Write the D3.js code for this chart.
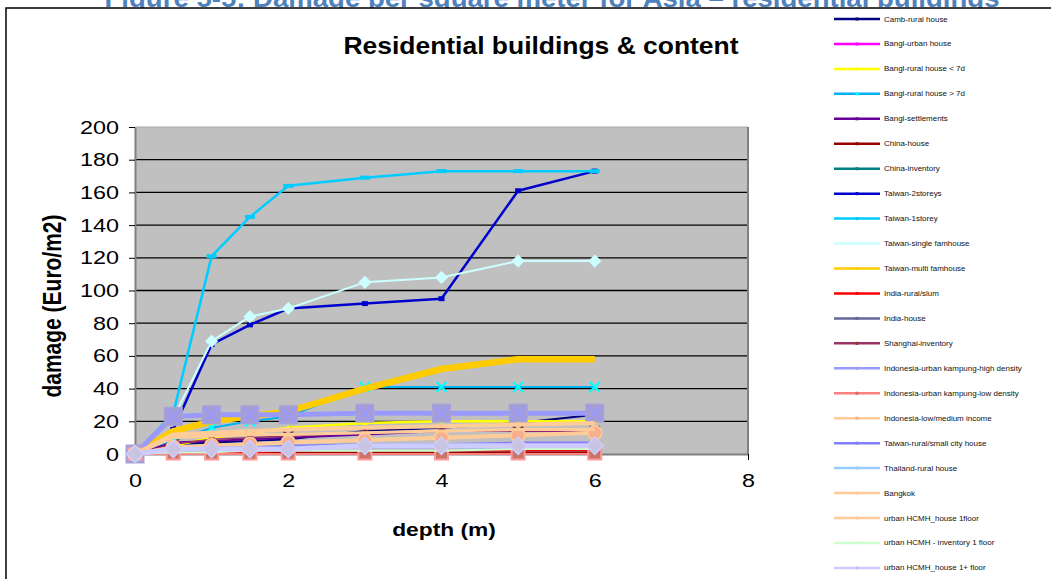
<!DOCTYPE html>
<html>
<head>
<meta charset="utf-8">
<script src="https://cdn.jsdelivr.net/npm/d3@7"></script>
<style>
  body { margin: 0; background: #fff; }
  text { font-family: Arial, "Liberation Sans", sans-serif; }
</style>
</head>
<body>
<svg id="chart" width="1051" height="579"></svg>
<script>
// depths (m) where the curves are sampled
const depth = [0, 0.5, 1, 1.5, 2, 3, 4, 5, 6];

const seriesNames = [
  "Camb-rural house", "Bangl-urban house", "Bangl-rural house < 7d", "Bangl-rural house > 7d",
  "Bangl-settlements", "China-house", "China-inventory", "Taiwan-2storeys", "Taiwan-1storey",
  "Taiwan-single famhouse", "Taiwan-multi famhouse", "India-rural/slum", "India-house",
  "Shanghai-inventory", "Indonesia-urban kampung-high density", "Indonesia-urban kampung-low density",
  "Indonesia-low/medium income", "Taiwan-rural/small city house", "Thailand-rural house", "Bangkok",
  "urban HCMH_house 1floor", "urban HCMH - inventory 1 floor", "urban HCMH_house 1+ floor"
];

// damage (Euro/m2)
const cambRural         = [0, 6, 7, 8, 9, 14, 16, 19, 24];
const banglUrban        = [0, 2, 3, 3, 4, 5, 5, 6, 6];
const banglRuralLess7d  = [0, 5, 10, 13, 16, 19, 20, 20, 20];
const banglRuralMore7d  = [0, 8, 16, 20, 23, 41, 41, 41, 41];
const banglSettlements  = [0, 7, 8, 9, 10, 12, 14, 14, 14];
const chinaHouse        = [0, 1, 1, 1, 1, 1, 1, 1, 1];
const chinaInventory    = [0, 1, 2, 2, 2, 2, 2, 2, 2];
const taiwan2storeys    = [0, 15, 67, 79, 89, 92, 95, 161, 173];
const taiwan1storey     = [0, 25, 121, 145, 164, 169, 173, 173, 173];
const taiwanSingleFam   = [0, 22, 69, 84, 89, 105, 108, 118, 118];
const taiwanMultiFam    = [0, 14, 20, 23, 26, 40, 52, 58, 58];
const indiaRuralSlum    = [0, 1, 1, 1, 2, 2, 2, 2, 2];
const indiaHouse        = [0, 2, 3, 3, 3, 4, 4, 4, 4];
const shanghaiInventory = [0, 6, 9, 10, 11, 13, 14, 14, 14];
const indonesiaHigh     = [0, 23, 24, 24, 24, 25, 25, 25, 25];
const indonesiaLow      = [0, 0, 0, 0, 0, 0, 0, 0, 0];
const indonesiaLowMed   = [0, 4, 5, 6, 7, 8.5, 10, 11.5, 13];
const taiwanRuralSmall  = [0, 3, 4, 4, 5, 6, 6, 7, 7];
const thailandRural     = [0, 2, 3, 3, 3, 4, 4, 4, 4];
const bangkok           = [0, 12, 13, 14, 15, 16, 17, 18, 19];
const hcmhHouse1        = [0, 10, 11, 12, 12, 13, 14, 15, 15];
const hcmhInventory     = [0, 1, 1, 2, 2, 2, 2, 3, 3];
const hcmhHouse1plus    = [0, 3, 3, 3, 3, 5, 5, 5, 5];

const seriesValues = [
  cambRural, banglUrban, banglRuralLess7d, banglRuralMore7d, banglSettlements, chinaHouse,
  chinaInventory, taiwan2storeys, taiwan1storey, taiwanSingleFam, taiwanMultiFam, indiaRuralSlum,
  indiaHouse, shanghaiInventory, indonesiaHigh, indonesiaLow, indonesiaLowMed, taiwanRuralSmall,
  thailandRural, bangkok, hcmhHouse1, hcmhInventory, hcmhHouse1plus
];

const yTicks = [0, 20, 40, 60, 80, 100, 120, 140, 160, 180, 200];
const xTicks = [0, 2, 4, 6, 8];

// look of each series: line colour, width, marker
const styles = [
  { c: "#000080", w: 2,   m: "dash",   mc: "#000080" },
  { c: "#FF00FF", w: 2,   m: "dash",   mc: "#FF00FF" },
  { c: "#FFFF00", w: 2.5, m: "tri",    mc: "#FFFF00" },
  { c: "#00B0F0", w: 2,   m: "x",      mc: "#00FFFF" },
  { c: "#660099", w: 2,   m: "dash",   mc: "#660099" },
  { c: "#990000", w: 1.5, m: "none" },
  { c: "#008080", w: 1.5, m: "none" },
  { c: "#0000CC", w: 2.5, m: "dash",   mc: "#0000CC" },
  { c: "#00CCFF", w: 2.5, m: "bar",    mc: "#00CCFF" },
  { c: "#CCFFFF", w: 2,   m: "diamond", mc: "#CCFFFF", ms: 11 },
  { c: "#FFCC00", w: 6.5, m: "none" },
  { c: "#FF0000", w: 1.5, m: "none" },
  { c: "#666699", w: 1.5, m: "none" },
  { c: "#993366", w: 1.5, m: "x",      mc: "#993333" },
  { c: "#9999FF", w: 5,   m: "squareX", mc: "#A59ED6", ms: 18 },
  { c: "#FF8080", w: 2,   m: "square", mc: "#C87466", ms: 13 },
  { c: "#FFCC99", w: 4,   m: "circle", mc: "#F7B08E", ms: 14 },
  { c: "#8080FF", w: 2,   m: "none" },
  { c: "#99CCFF", w: 2,   m: "none" },
  { c: "#FFCC99", w: 4,   m: "none" },
  { c: "#FFCC99", w: 3,   m: "none" },
  { c: "#CCFFCC", w: 2,   m: "none" },
  { c: "#CCCCFF", w: 5,   m: "diamond", mc: "#C9C4E2", ms: 17 }
];

const STRETCH = 1.23; // the reference text is rendered wide

const svg = d3.select("#chart");

// page heading, mostly cut off at the top
svg.append("text")
  .attr("x", 552).attr("y", 7)
  .attr("text-anchor", "middle")
  .attr("font-family", "Lato, 'Open Sans', sans-serif")
  .attr("font-weight", "bold").attr("font-size", 25)
  .attr("fill", "#4F81BD")
  .attr("textLength", 895).attr("lengthAdjust", "spacingAndGlyphs")
  .text("Figure 5-5: Damage per square meter for Asia – residential buildings");

// chart area
svg.append("rect")
  .attr("x", 6).attr("y", 8).attr("width", 1100).attr("height", 620)
  .attr("fill", "#fff").attr("stroke", "#000").attr("stroke-width", 1.5);

var x = d3.scaleLinear().domain([0, 8]).range([135, 748]);
var y = d3.scaleLinear().domain([0, 200]).range([454, 127]);

// plot area
svg.append("rect")
  .attr("x", x(0)).attr("y", y(200))
  .attr("width", x(8) - x(0)).attr("height", y(0) - y(200))
  .attr("fill", "#C0C0C0");

svg.append("g")
  .selectAll("line")
  .data(yTicks.filter(d => d > 0 && d < 200))
  .enter().append("line")
  .attr("x1", x(0)).attr("x2", x(8))
  .attr("y1", d => y(d)).attr("y2", d => y(d))
  .attr("stroke", "#000").attr("stroke-width", 1.3);

svg.append("line")
  .attr("x1", x(0)).attr("x2", x(8)).attr("y1", y(200)).attr("y2", y(200))
  .attr("stroke", "#A8A8A8").attr("stroke-width", 1);
svg.append("line")
  .attr("x1", x(8)).attr("x2", x(8)).attr("y1", y(200)).attr("y2", y(0))
  .attr("stroke", "#808080").attr("stroke-width", 2);

// axes
var yAxis = svg.append("g")
  .attr("transform", "translate(" + x(0) + ",0)")
  .call(d3.axisLeft(y).tickValues(yTicks).tickSize(6).tickPadding(10).tickSizeOuter(0));
var xAxis = svg.append("g")
  .attr("transform", "translate(0," + y(0) + ")")
  .call(d3.axisBottom(x).tickValues(xTicks).tickSize(6).tickPadding(14).tickSizeOuter(0));

[yAxis, xAxis].forEach(ax => {
  ax.select(".domain").attr("stroke", "#808080").attr("stroke-width", 2);
  ax.selectAll(".tick line").attr("stroke", "#000").attr("stroke-width", 1);
  ax.selectAll(".tick text")
    .attr("font-family", "Arial, 'Liberation Sans', sans-serif")
    .attr("font-size", 19).attr("fill", "#000");
});
yAxis.selectAll(".tick text")
  .attr("x", -16 / STRETCH)
  .attr("transform", "scale(" + STRETCH + ",1)");
xAxis.selectAll(".tick text")
  .attr("transform", "scale(" + STRETCH + ",1)");

// series
var line = d3.line()
  .x((d, i) => x(depth[i]))
  .y(d => y(d));

var marker = function(g, st, cx, cy) {
  var s = st.ms || 7;
  if (st.m === "dash") {
    g.append("rect").attr("x", cx - 3).attr("y", cy - 2.5).attr("width", 6).attr("height", 5).attr("fill", st.mc);
  } else if (st.m === "bar") {
    g.append("rect").attr("x", cx - 5).attr("y", cy - 2).attr("width", 10).attr("height", 4).attr("fill", st.mc);
  } else if (st.m === "tri") {
    g.append("path").attr("d", "M" + cx + "," + (cy - 3) + "l3,5h-6z").attr("fill", st.mc);
  } else if (st.m === "x") {
    g.append("path")
      .attr("d", "M" + (cx - 5) + "," + (cy - 5) + "l10,10M" + (cx + 5) + "," + (cy - 5) + "l-10,10")
      .attr("stroke", st.mc).attr("stroke-width", 2.2);
  } else if (st.m === "diamond") {
    var h = s / 2;
    g.append("path")
      .attr("d", "M" + cx + "," + (cy - h) + "L" + (cx + h) + "," + cy + "L" + cx + "," + (cy + h) + "L" + (cx - h) + "," + cy + "Z")
      .attr("fill", st.mc).attr("stroke", st.c).attr("stroke-width", 1.5);
  } else if (st.m === "squareX") {
    var h2 = s / 2;
    g.append("rect").attr("x", cx - h2).attr("y", cy - h2).attr("width", s).attr("height", s)
      .attr("fill", st.mc).attr("stroke", "#A8A2D8").attr("stroke-width", 1);
    g.append("path")
      .attr("d", "M" + (cx - h2 + 2) + "," + (cy - h2 + 2) + "L" + (cx + h2 - 2) + "," + (cy + h2 - 2) +
                 "M" + (cx + h2 - 2) + "," + (cy - h2 + 2) + "L" + (cx - h2 + 2) + "," + (cy + h2 - 2))
      .attr("stroke", "#9999FF").attr("stroke-width", 2);
  } else if (st.m === "square") {
    g.append("rect").attr("x", cx - s / 2).attr("y", cy - s / 2 + 1).attr("width", s).attr("height", s - 2)
      .attr("fill", st.mc).attr("stroke", "#FF9999").attr("stroke-width", 2);
  } else if (st.m === "circle") {
    g.append("circle").attr("cx", cx).attr("cy", cy).attr("r", s / 2)
      .attr("fill", st.mc).attr("stroke", st.c).attr("stroke-width", 1.5);
  }
};

var plot = svg.append("g");
seriesValues.forEach((vals, k) => {
  var st = styles[k];
  var g = plot.append("g");
  g.append("path")
    .attr("d", line(vals))
    .attr("fill", "none")
    .attr("stroke", st.c)
    .attr("stroke-width", st.w)
    .attr("stroke-linejoin", "round");
  vals.forEach((v, i) => {
    if (st.m !== "none") marker(g, st, x(depth[i]), y(v));
  });
});

// title + axis titles
svg.append("text")
  .attr("transform", "translate(541,54) scale(1.15,1)")
  .attr("text-anchor", "middle")
  .attr("font-weight", "bold").attr("font-size", 23)
  .text("Residential buildings & content");

svg.append("text")
  .attr("transform", "translate(61,306) scale(" + STRETCH + ",1) rotate(-90)")
  .attr("text-anchor", "middle")
  .attr("font-weight", "bold").attr("font-size", 21)
  .text("damage (Euro/m2)");

svg.append("text")
  .attr("transform", "translate(444,536) scale(" + STRETCH + ",1)")
  .attr("text-anchor", "middle")
  .attr("font-weight", "bold").attr("font-size", 18.5)
  .text("depth (m)");

// legend
var legend = svg.append("g")
  .selectAll("g")
  .data(seriesNames)
  .enter().append("g")
  .attr("transform", (d, i) => "translate(834," + (19 + i * 24.95) + ")");

legend.append("line")
  .attr("x1", 0).attr("x2", 46)
  .attr("stroke", (d, i) => styles[i].c)
  .attr("stroke-width", 2.5);
legend.append("rect")
  .attr("x", 21.5).attr("y", -1.5).attr("width", 3).attr("height", 3)
  .attr("fill", (d, i) => styles[i].mc || styles[i].c);
legend.append("text")
  .attr("transform", "translate(50,2.5) scale(" + STRETCH + ",1)")
  .attr("font-size", 6.5)
  .attr("fill", "#111")
  .text(d => d);
</script>
</body>
</html>
